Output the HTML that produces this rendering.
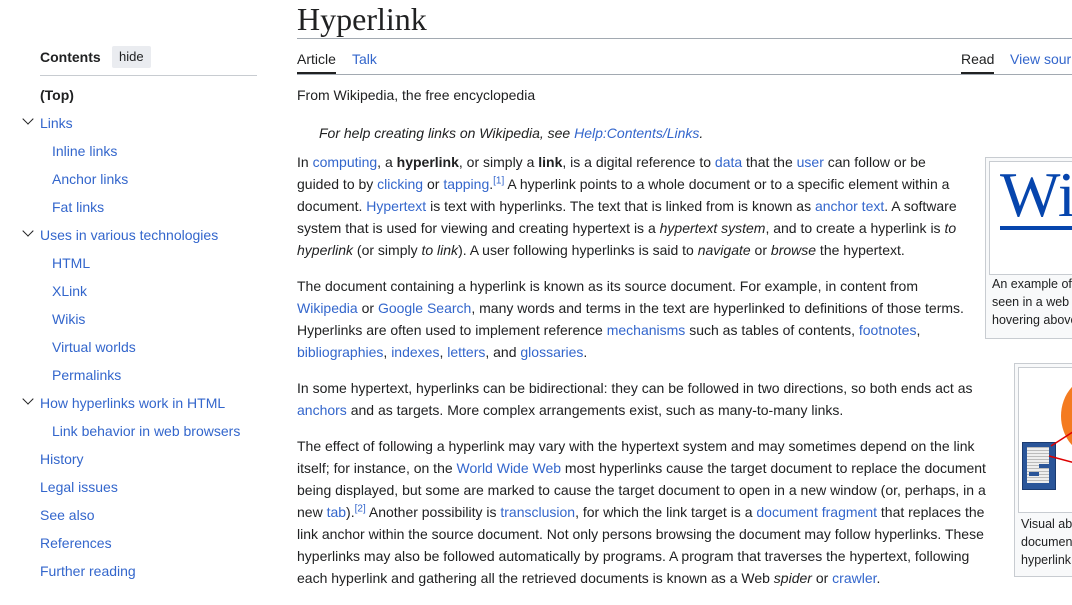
<!DOCTYPE html>
<html><head><meta charset="utf-8"><style>
body{margin:0;width:1072px;height:605px;overflow:hidden;background:#fff;font-family:"Liberation Sans",Arial,sans-serif;color:#202122;position:relative}
a{color:#3366cc;text-decoration:none}
.l{position:absolute;white-space:nowrap;font-size:14px;line-height:22px}
.s{position:absolute;font-size:14px;white-space:nowrap;line-height:20px}
.chev{position:absolute;width:7px;height:7px;border-right:1.6px solid #202122;border-bottom:1.6px solid #202122;transform:rotate(45deg)}
sup{font-size:10px;line-height:0}
</style></head><body>
<div class="s" style="left:40px;top:47px;font-weight:bold;font-size:14px">Contents</div>
<div class="s" style="left:112px;top:46px;background:#eaecf0;border-radius:2px;padding:1px 7px;font-size:13px">hide</div>
<div style="position:absolute;left:40px;top:75px;width:217px;height:1px;background:#c8ccd1"></div>
<div class="s" style="left:40px;top:85px;font-weight:bold">(Top)</div>
<div class="chev" style="left:24px;top:115px"></div>
<a class="s" style="left:40px;top:113px">Links</a>
<a class="s" style="left:52px;top:141px">Inline links</a>
<a class="s" style="left:52px;top:169px">Anchor links</a>
<a class="s" style="left:52px;top:197px">Fat links</a>
<div class="chev" style="left:24px;top:227px"></div>
<a class="s" style="left:40px;top:225px">Uses in various technologies</a>
<a class="s" style="left:52px;top:253px">HTML</a>
<a class="s" style="left:52px;top:281px">XLink</a>
<a class="s" style="left:52px;top:309px">Wikis</a>
<a class="s" style="left:52px;top:337px">Virtual worlds</a>
<a class="s" style="left:52px;top:365px">Permalinks</a>
<div class="chev" style="left:24px;top:395px"></div>
<a class="s" style="left:40px;top:393px">How hyperlinks work in HTML</a>
<a class="s" style="left:52px;top:421px">Link behavior in web browsers</a>
<a class="s" style="left:40px;top:449px">History</a>
<a class="s" style="left:40px;top:477px">Legal issues</a>
<a class="s" style="left:40px;top:505px">See also</a>
<a class="s" style="left:40px;top:533px">References</a>
<a class="s" style="left:40px;top:561px">Further reading</a>
<div style="position:absolute;left:297px;top:0px;font-family:'Liberation Serif',serif;font-size:32px;line-height:38px">Hyperlink</div>
<div style="position:absolute;left:297px;top:38px;width:775px;height:1px;background:#a2a9b1"></div>
<div class="s" style="left:297px;top:49px">Article</div>
<div style="position:absolute;left:297px;top:72px;width:39px;height:2px;background:#202122"></div>
<a class="s" style="left:352px;top:49px">Talk</a>
<div class="s" style="left:961px;top:49px">Read</div>
<div style="position:absolute;left:961px;top:72px;width:33px;height:2px;background:#202122"></div>
<a class="s" style="left:1010px;top:49px">View sour</a>
<div style="position:absolute;left:297px;top:74px;width:775px;height:1px;background:#a2a9b1"></div>
<div class="l" style="left:297px;top:84px">From Wikipedia, the free encyclopedia</div>
<div class="l" style="left:319px;top:122px;font-style:italic">For help creating links on Wikipedia, see <a>Help:Contents/Links</a>.</div>
<div class="l" style="left:297px;top:151px">In <a>computing</a>, a <b>hyperlink</b>, or simply a <b>link</b>, is a digital reference to <a>data</a> that the <a>user</a> can follow or be</div>
<div class="l" style="left:297px;top:173px">guided to by <a>clicking</a> or <a>tapping</a>.<sup><a>[1]</a></sup> A hyperlink points to a whole document or to a specific element within a</div>
<div class="l" style="left:297px;top:195px">document. <a>Hypertext</a> is text with hyperlinks. The text that is linked from is known as <a>anchor text</a>. A software</div>
<div class="l" style="left:297px;top:217px">system that is used for viewing and creating hypertext is a <i>hypertext system</i>, and to create a hyperlink is <i>to</i></div>
<div class="l" style="left:297px;top:239px"><i>hyperlink</i> (or simply <i>to link</i>). A user following hyperlinks is said to <i>navigate</i> or <i>browse</i> the hypertext.</div>
<div class="l" style="left:297px;top:275px">The document containing a hyperlink is known as its source document. For example, in content from</div>
<div class="l" style="left:297px;top:297px"><a>Wikipedia</a> or <a>Google Search</a>, many words and terms in the text are hyperlinked to definitions of those terms.</div>
<div class="l" style="left:297px;top:319px">Hyperlinks are often used to implement reference <a>mechanisms</a> such as tables of contents, <a>footnotes</a>,</div>
<div class="l" style="left:297px;top:341px"><a>bibliographies</a>, <a>indexes</a>, <a>letters</a>, and <a>glossaries</a>.</div>
<div class="l" style="left:297px;top:377px">In some hypertext, hyperlinks can be bidirectional: they can be followed in two directions, so both ends act as</div>
<div class="l" style="left:297px;top:399px"><a>anchors</a> and as targets. More complex arrangements exist, such as many-to-many links.</div>
<div class="l" style="left:297px;top:435px">The effect of following a hyperlink may vary with the hypertext system and may sometimes depend on the link</div>
<div class="l" style="left:297px;top:457px">itself; for instance, on the <a>World Wide Web</a> most hyperlinks cause the target document to replace the document</div>
<div class="l" style="left:297px;top:479px">being displayed, but some are marked to cause the target document to open in a new window (or, perhaps, in a</div>
<div class="l" style="left:297px;top:501px">new <a>tab</a>).<sup><a>[2]</a></sup> Another possibility is <a>transclusion</a>, for which the link target is a <a>document fragment</a> that replaces the</div>
<div class="l" style="left:297px;top:523px">link anchor within the source document. Not only persons browsing the document may follow hyperlinks. These</div>
<div class="l" style="left:297px;top:545px">hyperlinks may also be followed automatically by programs. A program that traverses the hypertext, following</div>
<div class="l" style="left:297px;top:567px">each hyperlink and gathering all the retrieved documents is known as a Web <i>spider</i> or <a>crawler</a>.</div>
<div style="position:absolute;left:985px;top:157px;width:100px;height:180px;background:#f8f9fa;border:1px solid #c8ccd1"></div>
<div style="position:absolute;left:989px;top:161px;width:95px;height:112px;background:#fff;border:1px solid #c8ccd1;overflow:hidden">
<div style="position:absolute;left:10px;top:-2px;font-family:'Liberation Serif',serif;font-size:64px;line-height:70px;color:#0645ad">Wik</div>
<div style="position:absolute;left:10px;top:64px;width:90px;height:4px;background:#0645ad"></div></div>
<div class="s" style="left:992px;top:275px;font-size:12.5px;line-height:18px">An example of<br>seen in a web<br>hovering above</div>
<div style="position:absolute;left:1014px;top:363px;width:70px;height:212px;background:#f8f9fa;border:1px solid #c8ccd1"></div>
<div style="position:absolute;left:1018px;top:367px;width:60px;height:144px;background:#fff;border:1px solid #c8ccd1;overflow:hidden">
<div style="position:absolute;left:42px;top:8px;width:70px;height:80px;border-radius:50%;background:#f47b20"></div>
<div style="position:absolute;left:3px;top:74px;width:32px;height:46px;background:#2a5599;border:1px solid #1a3a70"></div>
<div style="position:absolute;left:8px;top:79px;width:22px;height:36px;background:repeating-linear-gradient(#bbb 0 1px,#eee 1px 3px)"></div>
<div style="position:absolute;left:20px;top:96px;width:10px;height:4px;background:#2a5599"></div>
<div style="position:absolute;left:10px;top:104px;width:10px;height:4px;background:#2a5599"></div>
<svg style="position:absolute;left:0;top:0" width="60" height="144"><line x1="60" y1="60" x2="32" y2="78" stroke="#d00" stroke-width="1.5"/><line x1="60" y1="96" x2="30" y2="88" stroke="#d00" stroke-width="1.5"/></svg></div>
<div class="s" style="left:1021px;top:515px;font-size:12.5px;line-height:18px">Visual ab<br>documen<br>hyperlink</div>
</body></html>
